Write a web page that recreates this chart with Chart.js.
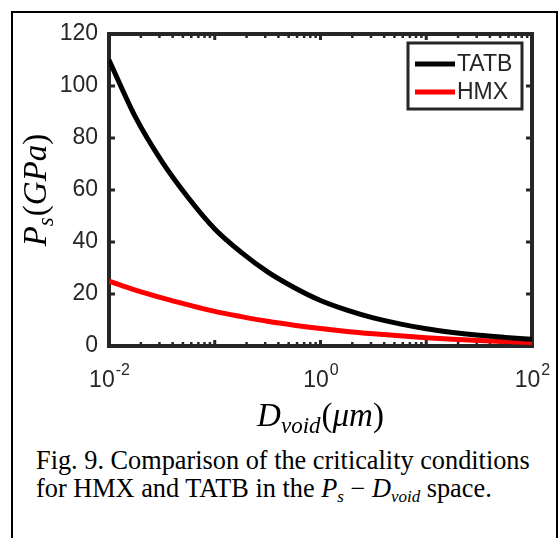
<!DOCTYPE html>
<html>
<head>
<meta charset="utf-8">
<script src="https://cdn.jsdelivr.net/npm/chart.js@4/dist/chart.umd.min.js"></script>
<style>
  html, body { margin: 0; padding: 0; background: #fff; }
  body { width: 559px; height: 538px; position: relative; overflow: hidden; }
  #frame { position: absolute; left: 11px; top: 11px; width: 547px; height: 560px; border: 2px solid #000; box-sizing: border-box; }
  #chart-wrap { position: absolute; left: 0; top: 0; width: 559px; height: 440px; }
  #caption { position: absolute; left: 36px; top: 447px; font: 26.3px 'Liberation Serif', 'Times New Roman', serif; line-height: 28px; color: #000; white-space: nowrap; }
  #caption i { font-style: italic; }
  #caption sub { font-size: 17px; vertical-align: -5px; line-height: 0; }
</style>
</head>
<body>
<div id="frame"></div>
<div id="chart-wrap"><canvas id="chart" width="559" height="440"></canvas></div>
<div id="caption">Fig. 9. Comparison of the criticality conditions<br>for HMX and TATB in the <i>P</i><sub><i>s</i></sub> − <i>D</i><sub><i>void</i></sub> space.</div>
<script>
// void diameter (um), quarter-decade steps
const voidDiameters = [0.01, 0.0178, 0.0316, 0.0562, 0.1, 0.178, 0.316, 0.562, 1, 1.78, 3.16, 5.62, 10, 17.8, 31.6, 56.2, 100];
const tatbPressure = [110, 88, 71, 57, 45, 36, 28.5, 22.5, 17.5, 13.8, 10.8, 8.5, 6.6, 5.2, 4.1, 3.3, 2.6];
const hmxPressure = [25, 21.5, 18.5, 15.8, 13.3, 11.3, 9.5, 8, 6.7, 5.6, 4.7, 3.9, 3.2, 2.6, 2.1, 1.7, 1.3];

const seriesNames = ['TATB', 'HMX'];
const seriesColors = ['#000000', '#ff0000'];

const xTickValues = [0.01, 1, 100];
const xTickBases = ['10', '10', '10'];
const xTickExponents = ['-2', '0', '2'];
const yTickValues = [0, 20, 40, 60, 80, 100, 120];

const AXIS_COLOR = '#262626';
const SANS = "'Liberation Sans', Arial, sans-serif";
const MATH_FONT = "'Liberation Serif', 'Times New Roman', serif";

function toPoints(values) {
  return voidDiameters.map((d, i) => ({ x: d, y: values[i] }));
}

// math-style text: [text, isSubscript, upright] pieces
function drawMathText(ctx, parts, size, cx, cy) {
  const fontFor = (sub, upright) => sub
    ? `italic ${Math.round(size * 0.7)}px ${MATH_FONT}`
    : `${upright ? '' : 'italic '}${size}px ${MATH_FONT}`;
  let total = 0;
  parts.forEach(([txt, sub, upright]) => {
    ctx.font = fontFor(sub, upright);
    total += ctx.measureText(txt).width + (sub ? 1 : 0);
  });
  let x = cx - total / 2;
  ctx.textBaseline = 'alphabetic';
  ctx.textAlign = 'left';
  parts.forEach(([txt, sub, upright]) => {
    ctx.font = fontFor(sub, upright);
    ctx.fillText(txt, x, cy + (sub ? size * 0.22 : 0));
    x += ctx.measureText(txt).width + (sub ? 1 : 0);
  });
}

const framePlugin = {
  id: 'matlabFrame',
  beforeDatasetsDraw(chart) {
    const { ctx, chartArea: a, scales } = chart;
    ctx.save();
    ctx.strokeStyle = AXIS_COLOR;

    // inward ticks on y (both sides)
    ctx.lineWidth = 3;
    yTickValues.forEach((v) => {
      const y = scales.y.getPixelForValue(v);
      ctx.beginPath();
      ctx.moveTo(a.left, y); ctx.lineTo(a.left + 6, y);
      ctx.moveTo(a.right, y); ctx.lineTo(a.right - 6, y);
      ctx.stroke();
    });

    // log ticks on x (top and bottom)
    for (let e = -2; e < 2; e++) {
      for (let m = 1; m <= 9; m++) {
        const x = scales.x.getPixelForValue(m * Math.pow(10, e));
        const len = m === 1 ? 6 : 4;
        ctx.lineWidth = m === 1 ? 3 : 2.5;
        ctx.beginPath();
        ctx.moveTo(x, a.bottom); ctx.lineTo(x, a.bottom - len);
        ctx.moveTo(x, a.top); ctx.lineTo(x, a.top + len);
        ctx.stroke();
      }
    }

    ctx.lineWidth = 4;
    ctx.strokeRect(a.left, a.top, a.right - a.left, a.bottom - a.top);

    // x tick labels with superscript exponents
    ctx.fillStyle = AXIS_COLOR;
    ctx.textBaseline = 'alphabetic';
    xTickValues.forEach((v, i) => {
      const x = scales.x.getPixelForValue(v);
      ctx.font = `23px ${SANS}`;
      const bw = ctx.measureText(xTickBases[i]).width;
      ctx.font = `16px ${SANS}`;
      const ew = ctx.measureText(xTickExponents[i]).width;
      const left = x - (bw + ew) / 2;
      ctx.font = `23px ${SANS}`;
      ctx.textAlign = 'left';
      ctx.fillText(xTickBases[i], left, a.bottom + 41);
      ctx.font = `16px ${SANS}`;
      ctx.fillText(xTickExponents[i], left + bw + 1, a.bottom + 29);
    });
    ctx.restore();
  },
  afterDatasetsDraw(chart) {
    const { ctx, chartArea: a } = chart;
    ctx.save();
    // legend box
    const bx = a.right - 124, by = a.top + 9, bw = 114, bh = 66;
    ctx.fillStyle = '#fff';
    ctx.fillRect(bx, by, bw, bh);
    ctx.strokeStyle = AXIS_COLOR;
    ctx.lineWidth = 3;
    ctx.strokeRect(bx, by, bw, bh);
    chart.data.datasets.forEach((ds, i) => {
      const y = by + 21 + i * 28;
      ctx.strokeStyle = ds.borderColor;
      ctx.lineWidth = 5;
      ctx.beginPath();
      ctx.moveTo(bx + 7, y); ctx.lineTo(bx + 47, y);
      ctx.stroke();
      ctx.fillStyle = AXIS_COLOR;
      ctx.font = `23px ${SANS}`;
      ctx.textBaseline = 'middle';
      ctx.textAlign = 'left';
      ctx.fillText(ds.label, bx + 49, y + 1);
    });
    ctx.restore();
  },
  afterDraw(chart) {
    const { ctx, chartArea: a } = chart;
    ctx.save();
    ctx.fillStyle = '#000';
    // x title
    drawMathText(ctx, [['D'], ['void', true], ['(', false, true], ['μm'], [')', false, true]], 33,
      (a.left + a.right) / 2, 426);
    // y title
    ctx.translate(46, (a.top + a.bottom) / 2);
    ctx.rotate(-Math.PI / 2);
    drawMathText(ctx, [['P'], ['s', true], ['(', false, true], ['GPa'], [')', false, true]], 33, 0, 0);
    ctx.restore();
  }
};

new Chart(document.getElementById('chart'), {
  type: 'line',
  data: {
    datasets: [
      { label: seriesNames[0], data: toPoints(tatbPressure), borderColor: seriesColors[0], backgroundColor: seriesColors[0] },
      { label: seriesNames[1], data: toPoints(hmxPressure), borderColor: seriesColors[1], backgroundColor: seriesColors[1] }
    ].map((ds) => ({ ...ds, borderWidth: 5, pointRadius: 0, fill: false, cubicInterpolationMode: 'monotone' }))
  },
  options: {
    responsive: false,
    animation: false,
    layout: { padding: { left: 0, right: 27, top: 34, bottom: 0 } },
    plugins: { legend: { display: false }, tooltip: { enabled: false } },
    scales: {
      x: {
        type: 'logarithmic',
        min: 0.01,
        max: 100,
        afterBuildTicks(scale) { scale.ticks = xTickValues.map((v) => ({ value: v })); },
        afterFit(scale) { scale.height = 94; },
        ticks: { display: false },
        grid: { display: false, drawTicks: false },
        border: { display: false }
      },
      y: {
        min: 0,
        max: 120,
        afterBuildTicks(scale) { scale.ticks = yTickValues.map((v) => ({ value: v })); },
        afterFit(scale) { scale.width = 109; },
        ticks: {
          color: AXIS_COLOR,
          font: { family: SANS, size: 23 },
          padding: 11
        },
        grid: { display: false, drawTicks: false },
        border: { display: false }
      }
    }
  },
  plugins: [framePlugin]
});
</script>
</body>
</html>
